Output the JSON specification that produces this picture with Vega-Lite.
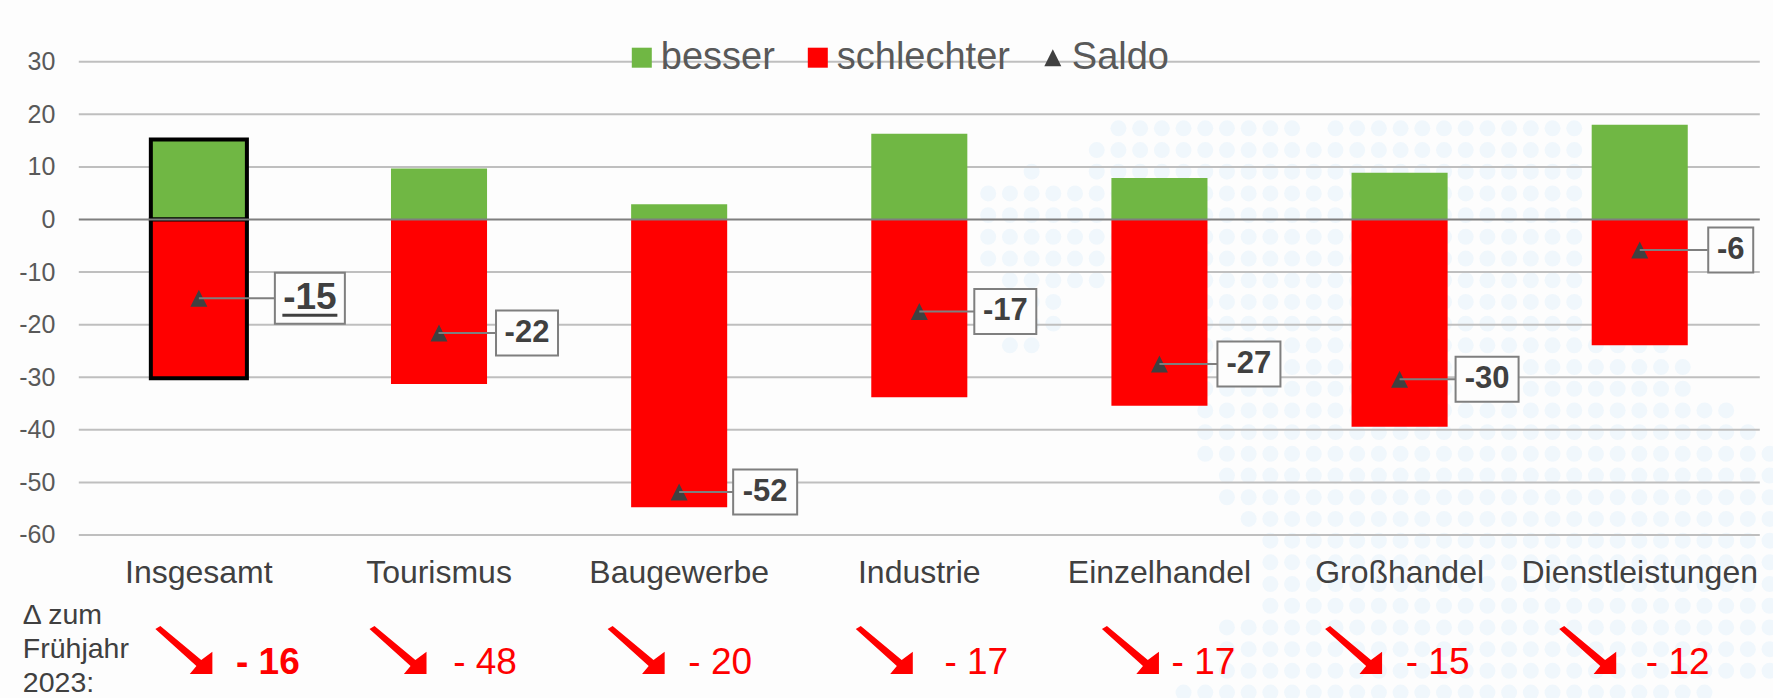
{"$schema":"https://vega.github.io/schema/vega-lite/v6.json","width":1681,"height":473.3,"autosize":{"type":"none"},"padding":{"left":78.8,"top":61.7,"right":13,"bottom":163},"background":"#fdfdfd","view":{"stroke":null},"config":{"font":"Liberation Sans"},
"datasets":{
"bars":[{"category":"Insgesamt","series":"besser","value":15.2},{"category":"Insgesamt","series":"schlechter","value":-30.2},{"category":"Tourismus","series":"besser","value":9.7},{"category":"Tourismus","series":"schlechter","value":-31.3},{"category":"Baugewerbe","series":"besser","value":2.9},{"category":"Baugewerbe","series":"schlechter","value":-54.7},{"category":"Industrie","series":"besser","value":16.3},{"category":"Industrie","series":"schlechter","value":-33.8},{"category":"Einzelhandel","series":"besser","value":7.9},{"category":"Einzelhandel","series":"schlechter","value":-35.4},{"category":"Großhandel","series":"besser","value":8.9},{"category":"Großhandel","series":"schlechter","value":-39.4},{"category":"Dienstleistungen","series":"besser","value":18},{"category":"Dienstleistungen","series":"schlechter","value":-23.9}],
"saldo":[{"category":"Insgesamt","series":"Saldo","value":-15,"label":"-15","delta":"- 16"},{"category":"Tourismus","series":"Saldo","value":-21.6,"label":"-22","delta":"- 48"},{"category":"Baugewerbe","series":"Saldo","value":-51.8,"label":"-52","delta":"- 20"},{"category":"Industrie","series":"Saldo","value":-17.5,"label":"-17","delta":"- 17"},{"category":"Einzelhandel","series":"Saldo","value":-27.5,"label":"-27","delta":"- 17"},{"category":"Großhandel","series":"Saldo","value":-30.4,"label":"-30","delta":"- 15"},{"category":"Dienstleistungen","series":"Saldo","value":-5.8,"label":"-6","delta":"- 12"}],
"grid":[{"v":30},{"v":20},{"v":10},{"v":-10},{"v":-20},{"v":-30},{"v":-40},{"v":-50},{"v":-60}],
"note":[{"category":"Insgesamt","text":"Δ zum\nFrühjahr\n2023:"}],
"dots":[{"r":0,"c":[6,7,8,9,10,11,12,13,14,16,17,18,19,20,21,22,23,24,25,26,27]},{"r":1,"c":[5,6,7,8,9,10,11,12,13,14,15,16,17,18,19,20,21,22,23,24,25,26,27]},{"r":2,"c":[2,5,6,7,8,9,10,11,12,13,14,15,16,17,18,19,20,21,22,23,24,25,26,27]},{"r":3,"c":[0,1,2,3,4,5,6,7,8,9,10,11,12,13,14,15,16,17,18,19,20,21,22,23,24,25,26,27]},{"r":4,"c":[0,1,2,3,4,5,6,7,8,9,10,11,12,13,14,15,16,17,18,19,20,21,22,23,24,25,26,27]},{"r":5,"c":[0,1,2,3,4,5,6,7,8,9,10,11,12,13,14,15,16,17,18,19,20,21,22,23,24,25,26,27]},{"r":6,"c":[0,1,2,3,4,5,6,7,8,9,10,11,12,13,14,15,16,17,18,19,20,21,22,23,24,25,26,27]},{"r":7,"c":[1,2,3,4,5,6,7,8,9,10,11,12,13,14,15,16,17,18,19,20,21,22,23,24,25,26,27]},{"r":8,"c":[2,3,7,8,9,10,11,12,13,14,15,16,17,18,19,20,21,22,23,24,25,26,27]},{"r":9,"c":[2,3,8,9,10,11,12,13,14,15,16,17,18,19,20,21,22,23,24,25,26,27]},{"r":10,"c":[1,2,10,11,12,13,14,15,16,17,18,19,20,21,22,23,24,25,26,27,28,29,30,31]},{"r":11,"c":[10,11,12,13,14,15,16,17,18,19,20,21,22,23,24,25,26,27,28,29,30,31,32]},{"r":12,"c":[10,11,12,13,14,15,16,17,18,19,20,21,22,23,24,25,26,27,28,29,30,31,32]},{"r":13,"c":[10,11,12,13,14,15,16,17,18,19,20,21,22,23,24,25,26,27,28,29,30,31,32,33,34]},{"r":14,"c":[10,11,12,13,14,15,16,17,18,19,20,21,22,23,24,25,26,27,28,29,30,31,32,33,34,35]},{"r":15,"c":[10,11,12,13,14,15,16,17,18,19,20,21,22,23,24,25,26,27,28,29,30,31,32,33,34,35,36]},{"r":16,"c":[11,12,13,14,15,16,17,18,19,20,21,22,23,24,25,26,27,28,29,30,31,32,33,34,35,36]},{"r":17,"c":[11,12,13,14,15,16,17,18,19,20,21,22,23,24,25,26,27,28,29,30,31,32,33,34,35,36]},{"r":18,"c":[12,13,14,15,16,17,18,19,20,21,22,23,24,25,26,27,28,29,30,31,32,33,34,35,36]},{"r":19,"c":[13,14,15,16,17,18,19,20,21,22,23,24,25,26,27,28,29,30,31,32,33,34,35,36]},{"r":20,"c":[13,14,15,16,17,18,19,20,21,22,23,24,25,26,27,28,29,30,31,32,33,34,35,36]},{"r":21,"c":[13,14,15,16,17,18,19,20,21,22,23,24,25,26,27,28,29,30,31,32,33,34,35,36]},{"r":22,"c":[13,14,15,16,17,18,19,20,21,22,23,24,25,26,27,28,29,30,31,32,33,34,35,36]},{"r":23,"c":[11,12,13,14,15,16,17,18,19,20,21,22,23,24,25,26,27,28,29,30,31,32,33,34,35,36]},{"r":24,"c":[11,12,13,14,15,16,17,18,19,20,21,22,23,24,25,26,27,28,29,30,31,32,33,34,35,36]},{"r":25,"c":[11,12,13,14,15,16,17,18,19,20,21,22,23,24,25,26,27,28,29,30,31,32,33,34,35,36]},{"r":26,"c":[9,10,11,12,13,14,15,16,17,18,19,20,21,22,23,24,25,26,27,28,29,30,31,32,33]}]
},
"resolve":{"scale":{"x":"independent","y":"independent"}},
"layer":[
{"data":{"name":"dots"},"transform":[{"flatten":["c"]}],"mark":{"type":"circle","size":255,"color":"#f0f7fc","opacity":1,"clip":false},"encoding":{"x":{"field":"c","type":"quantitative","axis":null,"scale":{"domain":[-41.9,35.55],"nice":false,"zero":false}},"y":{"field":"r","type":"quantitative","axis":null,"scale":{"domain":[-3.07,18.74],"reverse":true,"nice":false,"zero":false}}}},
{"encoding":{"x":{"field":"category","type":"nominal","title":null,"scale":{"domain":["Insgesamt","Tourismus","Baugewerbe","Industrie","Einzelhandel","Großhandel","Dienstleistungen"],"paddingInner":0.6,"paddingOuter":0.3},"axis":{"zindex":1,"labelAngle":0,"labelFontSize":32,"labelColor":"#404040","labelPadding":23,"ticks":false,"domain":false,"grid":false,"labelOverlap":false,"labelBound":false,"labelLimit":400}}},
"layer":[
{"data":{"name":"grid"},"mark":{"type":"rule","color":"#bfbfbf","strokeWidth":2},"encoding":{"x":null,"y":{"field":"v","type":"quantitative","title":null,"scale":{"domain":[-60,30],"nice":false,"zero":false},"axis":{"values":[30,20,10,0,-10,-20,-30,-40,-50,-60],"labelExpr":"toString(datum.value)","labelFontSize":25,"labelColor":"#595959","labelPadding":24,"ticks":false,"domain":false,"grid":false}}}},
{"data":{"name":"bars"},"mark":{"type":"bar","strokeWidth":4},"encoding":{"y":{"field":"value","type":"quantitative","stack":null},"color":{"field":"series","type":"nominal","scale":{"domain":["besser","schlechter","Saldo"],"range":["#70b744","#ff0000","#404040"]},"legend":{"title":null,"orient":"none","direction":"horizontal","columns":3,"legendX":544,"legendY":-23,"padding":0,"labelFontSize":38,"labelColor":"#595959","labelOffset":0,"columnPadding":23,"symbolSize":400,"symbolStrokeWidth":0,"labelLimit":400}},"stroke":{"condition":{"test":"datum.category==='Insgesamt'","value":"#000000"},"value":null}}},
{"data":{"values":[{"z":0}]},"mark":{"type":"rule","color":"#7f7f7f","strokeWidth":2},"encoding":{"x":null,"y":{"field":"z","type":"quantitative"}}},
{"data":{"name":"saldo"},"mark":{"type":"point","filled":true,"size":400,"opacity":1},"encoding":{"y":{"field":"value","type":"quantitative"},"color":{"field":"series","type":"nominal"},"shape":{"field":"series","type":"nominal","scale":{"domain":["besser","schlechter","Saldo"],"range":["square","square","M-.85 .85L.85 .85L0 -.85Z"]}}}},
{"data":{"name":"saldo"},"mark":{"type":"tick","orient":"horizontal","color":"#7f7f7f","opacity":1,"thickness":2,"size":{"expr":"{'Insgesamt':76,'Tourismus':57,'Baugewerbe':54,'Industrie':56,'Einzelhandel':58,'Großhandel':56,'Dienstleistungen':68}[datum.category]"},"xOffset":{"expr":"{'Insgesamt':38,'Tourismus':28,'Baugewerbe':27,'Industrie':28,'Einzelhandel':29,'Großhandel':28,'Dienstleistungen':34}[datum.category]"}},"encoding":{"y":{"field":"value","type":"quantitative"}}},
{"data":{"name":"saldo"},"mark":{"type":"tick","orient":"horizontal","fill":"#fdfdfd","opacity":1,"stroke":"#7f7f7f","strokeWidth":2,"thickness":{"expr":"datum.category==='Insgesamt'?51:45"},"size":{"expr":"{'Insgesamt':70,'Tourismus':62,'Baugewerbe':64,'Industrie':62,'Einzelhandel':63,'Großhandel':63,'Dienstleistungen':45}[datum.category]"},"xOffset":{"expr":"{'Insgesamt':111,'Tourismus':88,'Baugewerbe':86,'Industrie':86,'Einzelhandel':89.5,'Großhandel':87.5,'Dienstleistungen':91}[datum.category]"}},"encoding":{"y":{"field":"value","type":"quantitative"}}},
{"data":{"name":"saldo"},"mark":{"type":"text","align":"center","baseline":"middle","fontWeight":"bold","color":"#404040","fontSize":{"expr":"datum.category==='Insgesamt'?37:31"},"xOffset":{"expr":"{'Insgesamt':111,'Tourismus':88,'Baugewerbe':86,'Industrie':86,'Einzelhandel':89.5,'Großhandel':87.5,'Dienstleistungen':91}[datum.category]"}},"encoding":{"y":{"field":"value","type":"quantitative"},"text":{"field":"label"}}},
{"data":{"name":"saldo"},"transform":[{"filter":"datum.category==='Insgesamt'"}],"mark":{"type":"tick","orient":"horizontal","color":"#404040","opacity":1,"thickness":3,"size":55,"xOffset":111,"yOffset":17},"encoding":{"y":{"field":"value","type":"quantitative"}}},
{"data":{"name":"saldo"},"mark":{"type":"point","filled":true,"opacity":1,"color":"#ff0000","size":3249,"shape":"M-1 -.75L-.825 -.86L.61 .33L1 .042L1 .825L.207 .825L.44 .54Z","yOffset":115.5,"xOffset":{"expr":"{'Insgesamt':-15,'Tourismus':-41,'Baugewerbe':-43,'Industrie':-35,'Einzelhandel':-29,'Großhandel':-46,'Dienstleistungen':-52}[datum.category]"}},"encoding":{"y":{"datum":-60}}},
{"data":{"name":"saldo"},"mark":{"type":"text","align":"center","baseline":"middle","color":"#ff0000","fontSize":37,"yOffset":128,"fontWeight":{"expr":"datum.category==='Insgesamt'?'bold':'normal'"},"xOffset":{"expr":"{'Insgesamt':69,'Tourismus':46,'Baugewerbe':41,'Industrie':57,'Einzelhandel':44,'Großhandel':38,'Dienstleistungen':38}[datum.category]"}},"encoding":{"y":{"datum":-60},"text":{"field":"delta"}}},
{"data":{"name":"note"},"mark":{"type":"text","align":"left","baseline":"middle","lineBreak":"\n","lineHeight":34,"color":"#404040","fontSize":28.5,"xOffset":-176,"yOffset":80},"encoding":{"y":{"datum":-60},"text":{"field":"text"}}}
]}
]}
